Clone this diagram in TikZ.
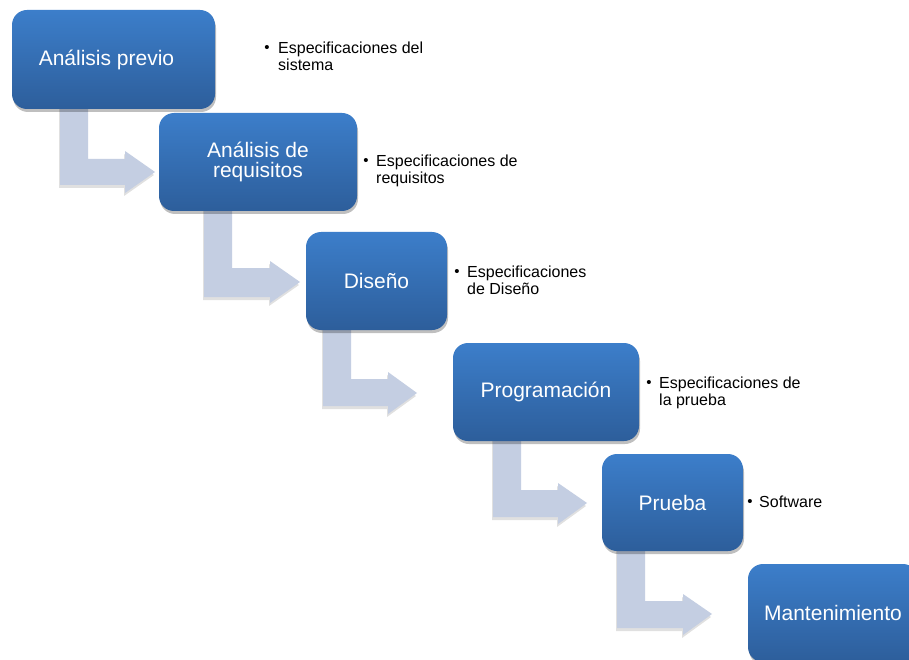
\documentclass[tikz,border=0pt]{standalone}
\usepackage{fontspec}
\setmainfont{Liberation Sans}
\usetikzlibrary{shadows}
\definecolor{boxtop}{RGB}{60,126,202}
\definecolor{boxbot}{RGB}{45,94,155}
\definecolor{arrowfill}{RGB}{196,206,226}
\tikzset{
  stepbox/.style={rounded corners=15pt, top color=boxtop, bottom color=boxbot, draw=none,
    text=white, font=\fontsize{21}{20}\selectfont, align=center, inner sep=0pt,
    drop shadow={shadow xshift=1pt, shadow yshift=-3pt, opacity=0.25, fill=black}},
  blockarrow/.style={fill=arrowfill, draw=none,
    drop shadow={shadow xshift=-1pt, shadow yshift=-3pt, opacity=0.12, fill=black}},
  spec/.style={font=\fontsize{16}{17.5}\selectfont, align=left, anchor=north west, inner sep=0pt},
  bulletdot/.style={font=\fontsize{15}{17}\selectfont, inner sep=0pt}
}
\begin{document}
\begin{tikzpicture}[x=1pt,y=-1pt]
\useasboundingbox (0,0) rectangle (909,660);
\clip (0,0) rectangle (909,660);
\fill[white] (0,0) rectangle (909,660);

% block arrows
\fill[blockarrow] (60,60) -- (88,60) -- (88,159) -- (125,159) -- (125,151) -- (155,172)
  -- (125,193) -- (125,185) -- (60,185) -- cycle;
\fill[blockarrow] (204,160) -- (232,160) -- (232,268) -- (270,268) -- (270,261) -- (300,282)
  -- (270,303) -- (270,297) -- (204,297) -- cycle;
\fill[blockarrow] (323,280) -- (351,280) -- (351,379) -- (388,379) -- (388,372) -- (417,393)
  -- (388,414) -- (388,406) -- (323,406) -- cycle;
\fill[blockarrow] (493,390) -- (521,390) -- (521,490) -- (558,490) -- (558,483) -- (587,503)
  -- (558,524) -- (558,517) -- (493,517) -- cycle;
\fill[blockarrow] (617,500) -- (645,500) -- (645,601) -- (683,601) -- (683,594) -- (712,614)
  -- (683,635) -- (683,628) -- (617,628) -- cycle;

% boxes
\node[stepbox, minimum width=203pt, minimum height=99pt] (b1) at (113.5,59.5) {Análisis previo\hspace*{14pt}};
\node[stepbox, minimum width=198pt, minimum height=98pt] (b2) at (258,162) {Análisis de\\requisitos};
\node[stepbox, minimum width=141pt, minimum height=98pt] (b3) at (376.5,281) {Diseño};
\node[stepbox, minimum width=186pt, minimum height=98pt] (b4) at (546,392) {Programación};
\node[stepbox, minimum width=141pt, minimum height=97pt] (b5) at (672.5,502.5) {Prueba};
\node[stepbox, minimum width=170pt, minimum height=98pt] (b6) at (833,613) {Mantenimiento};

% specifications
\node[bulletdot] (d1) at (267,49) {•};
\node[spec] (s1) at (278,41.5) {Especificaciones del\\sistema};
\node[bulletdot] (d2) at (366,162) {•};
\node[spec] (s2) at (376,154.5) {Especificaciones de\\requisitos};
\node[bulletdot] (d3) at (457,273) {•};
\node[spec] (s3) at (467,265.5) {Especificaciones\\de Diseño};
\node[bulletdot] (d4) at (649,384) {•};
\node[spec] (s4) at (659,376.5) {Especificaciones de\\la prueba};
\node[bulletdot] (d5) at (750,503) {•};
\node[spec] (s5) at (759,495.5) {Software};
\end{tikzpicture}
\end{document}
